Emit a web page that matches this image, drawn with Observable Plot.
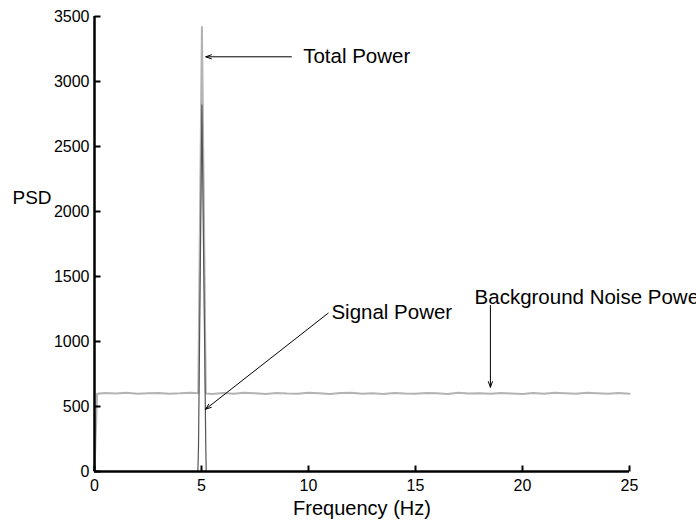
<!DOCTYPE html>
<html>
<head>
<meta charset="utf-8">
<script src="https://cdn.jsdelivr.net/npm/d3@7"></script>
<script src="https://cdn.jsdelivr.net/npm/@observablehq/plot@0.6"></script>
<style>
  html, body { margin: 0; padding: 0; background: #fff; overflow: hidden; }
  #chart svg { overflow: visible; }
</style>
</head>
<body>
<div id="chart"></div>
<script>
// Total power (noise floor + signal peak)
const totalFreq = [0, 0.12, 0.5, 1, 1.5, 2, 2.5, 3, 3.5, 4, 4.5, 4.85, 5.02, 5.2,
  5.5, 6, 6.5, 7, 7.5, 8, 8.5, 9, 9.5, 10, 10.5, 11, 11.5, 12, 12.5, 13, 13.5, 14,
  14.5, 15, 15.5, 16, 16.5, 17, 17.5, 18, 18.5, 19, 19.5, 20, 20.5, 21, 21.5, 22,
  22.5, 23, 23.5, 24, 24.5, 25];
const totalPower = [0, 598, 603, 600, 605, 598, 602, 604, 599, 601, 606, 601, 3420, 600,
  597, 603, 599, 606, 601, 597, 604, 600, 598, 605, 601, 597, 603, 606, 599, 602, 597, 604,
  600, 598, 603, 601, 597, 605, 600, 602, 598, 604, 600, 597, 603, 599, 605, 601,
  598, 606, 602, 599, 603, 598];

// Signal power (narrow peak at 5 Hz)
const signalFreq = [4.83, 4.86, 5.02, 5.2, 5.22];
const signalPower = [0, 190, 2820, 190, 0];

// Axis ticks
const xTicks = [0, 5, 10, 15, 20, 25];
const yTicks = [0, 500, 1000, 1500, 2000, 2500, 3000, 3500];

// Annotations
const annLabels = ["Total Power", "Signal Power", "Background Noise Power"];
const annX = [9.75, 11.07, 17.76];
const annY = [3190, 1220, 1340];
const arrowX1 = [9.2, 10.92, 18.5];
const arrowY1 = [3190, 1218, 1277];
const arrowX2 = [5.2, 5.19, 18.5];
const arrowY2 = [3190, 479, 648];

const totalData = totalFreq.map((f, i) => ({f, p: totalPower[i]}));
const signalData = signalFreq.map((f, i) => ({f, p: signalPower[i]}));
const annData = annLabels.map((t, i) => ({t, x: annX[i], y: annY[i]}));
const arrowData = arrowX1.map((x1, i) => ({x1, y1: arrowY1[i], x2: arrowX2[i], y2: arrowY2[i]}));

const font = "'Liberation Sans', Arial, Helvetica, sans-serif";
const W = 696, H = 521, ML = 94, MR = 67, MT = 16, MB = 50;
const xDomain = [0, 25], yDomain = [0, 3500];
const tickLen = 6;
// tick length expressed in data units so the inward ticks are drawn through the scales
const xTickLenData = tickLen * (xDomain[1] - xDomain[0]) / (W - ML - MR);
const yTickLenData = tickLen * (yDomain[1] - yDomain[0]) / (H - MT - MB);

const chart = Plot.plot({
  width: W,
  height: H,
  marginLeft: ML,
  marginRight: MR,
  marginTop: MT,
  marginBottom: MB,
  style: {fontFamily: font, fontSize: "16px", color: "#000", background: "#fff"},
  x: {domain: xDomain},
  y: {domain: yDomain},
  marks: [
    Plot.line(totalData, {x: "f", y: "p", stroke: "#b3b3b3", strokeWidth: 2}),
    Plot.line(signalData, {x: "f", y: "p", stroke: "#555", strokeWidth: 1.2}),
    Plot.axisX({ticks: xTicks, tickSize: 0, tickPadding: 8, tickFormat: d => String(d), label: null, fontSize: 16, fill: "#000"}),
    Plot.axisY({ticks: yTicks, tickSize: 0, tickPadding: 5, tickFormat: d => String(d), label: null, fontSize: 16, fill: "#000"}),
    // inward ticks
    Plot.link(xTicks, {x1: d => d, x2: d => d, y1: yDomain[0], y2: yDomain[0] + yTickLenData, stroke: "#000", strokeWidth: 2}),
    Plot.link(yTicks, {y1: d => d, y2: d => d, x1: xDomain[0], x2: xDomain[0] + xTickLenData, stroke: "#000", strokeWidth: 2}),
    Plot.ruleX([0], {stroke: "#000", strokeWidth: 2.5}),
    Plot.ruleY([0], {stroke: "#000", strokeWidth: 2.5}),
    Plot.text(["Frequency (Hz)"], {frameAnchor: "bottom", lineAnchor: "middle", dy: 37, fontSize: 20, fill: "#000"}),
    Plot.text(["PSD"], {frameAnchor: "left", textAnchor: "start", dx: -82, dy: -46, fontSize: 19, fill: "#000"}),
    Plot.arrow(arrowData, {x1: "x1", y1: "y1", x2: "x2", y2: "y2", stroke: "#000", strokeWidth: 1, headLength: 9, headAngle: 40}),
    Plot.text(annData, {x: "x", y: "y", text: "t", textAnchor: "start", fontSize: 20.5, fill: "#000"})
  ]
});
document.getElementById("chart").append(chart);
</script>
</body>
</html>
